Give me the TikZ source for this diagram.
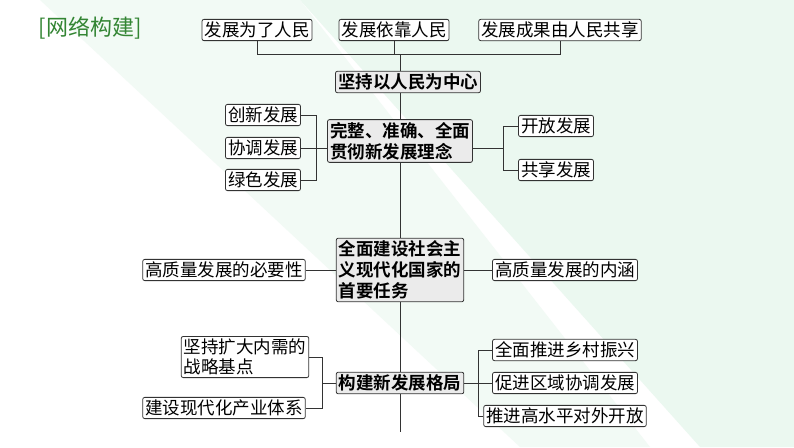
\documentclass[tikz,border=0pt]{standalone}
\usepackage{fontspec}
\setmainfont{Noto Sans CJK SC}[BoldFont={Noto Sans CJK SC Bold}]
\begin{document}
\begin{tikzpicture}[x=1pt,y=-1pt,
  bx/.style={draw=black!80,rounded corners=2pt,fill=white,line width=0.8pt,inner sep=2.5pt,font=\fontsize{17.5}{20}\selectfont},
  cb/.style={bx,fill=black!8,font=\fontsize{17.5}{21}\selectfont\bfseries},
  ln/.style={draw=black!80,line width=0.8pt}]
\useasboundingbox (0,0) rectangle (794,447);
\fill[white] (0,0) rectangle (794,447);
\fill[cyan!30!green!8] (300,0) -- (794,0) -- (794,447) -- (700,447) -- cycle;
\fill[cyan!30!green!5] (40,0) -- (300,0) -- (650,447) -- (520,447) -- cycle;
\node[font=\fontsize{22}{24}\selectfont, text=green!40!black!80] (t) at (90,28) {[网络构建]};
\node[bx] (a1) at (257,30) {发展为了人民};
\node[bx] (a2) at (394,30) {发展依靠人民};
\node[bx] (a3) at (560,30) {发展成果由人民共享};
\node[cb] (b) at (408,82) {坚持以人民为中心};
\coordinate (j1) at (257,54); \coordinate (j2) at (394,54); \coordinate (j3) at (560,54);
\draw[ln] (a1.south) -- (j1) -- (j3) -- (a3.south);
\draw[ln] (a2.south) -- (j2);
\coordinate (s0) at (400,54);
\node[cb,align=left] (c) at (400,141) {完整、准确、全面\\贯彻新发展理念};
\node[bx] (l1) at (263,115) {创新发展};
\node[bx] (l2) at (263,148) {协调发展};
\node[bx] (l3) at (263,180) {绿色发展};
\node[bx] (r1) at (556,126) {开放发展};
\node[bx] (r2) at (556,170) {共享发展};
\node[cb,align=left] (d) at (400,270) {全面建设社会主\\义现代化国家的\\首要任务};
\node[bx] (dl) at (224,270) {高质量发展的必要性};
\node[bx] (dr) at (565,270) {高质量发展的内涵};
\node[cb] (e) at (400,383) {构建新发展格局};
\node[bx,align=left] (el1) at (245,357) {坚持扩大内需的\\战略基点};
\node[bx] (el2) at (224,408) {建设现代化产业体系};
\node[bx] (er1) at (565,350) {全面推进乡村振兴};
\node[bx] (er2) at (565,383) {促进区域协调发展};
\node[bx] (er3) at (565,416) {推进高水平对外开放};
\coordinate (s1) at (400,432);
\draw[ln] (s0) -- (s0 |- b.north) (b.south -| c.north) -- (c.north) (c.south) -- (d.north) (d.south) -- (e.north) (e.south) -- (s1);
\draw[ln] (l1.east) -- (l1.east -| 316,0) -- (l3.east -| 316,0) -- (l3.east) (l2.east) -- (l2.east -| c.west);
\draw[ln] (r1.west) -- (r1.west -| 503,0) -- (r2.west -| 503,0) -- (r2.west) (503,148) -- (c.east |- 0,148);
\draw[ln] (dl.east) -- (d.west) (d.east) -- (dr.west);
\draw[ln] (el1.east) -- (el1.east -| 322,0) -- (el2.east -| 322,0) -- (el2.east) (322,383) -- (e.west);
\draw[ln] (er1.west) -- (er1.west -| 478,0) -- (er3.west -| 478,0) -- (er3.west) (er2.west) -- (e.east);
\end{tikzpicture}
\end{document}
